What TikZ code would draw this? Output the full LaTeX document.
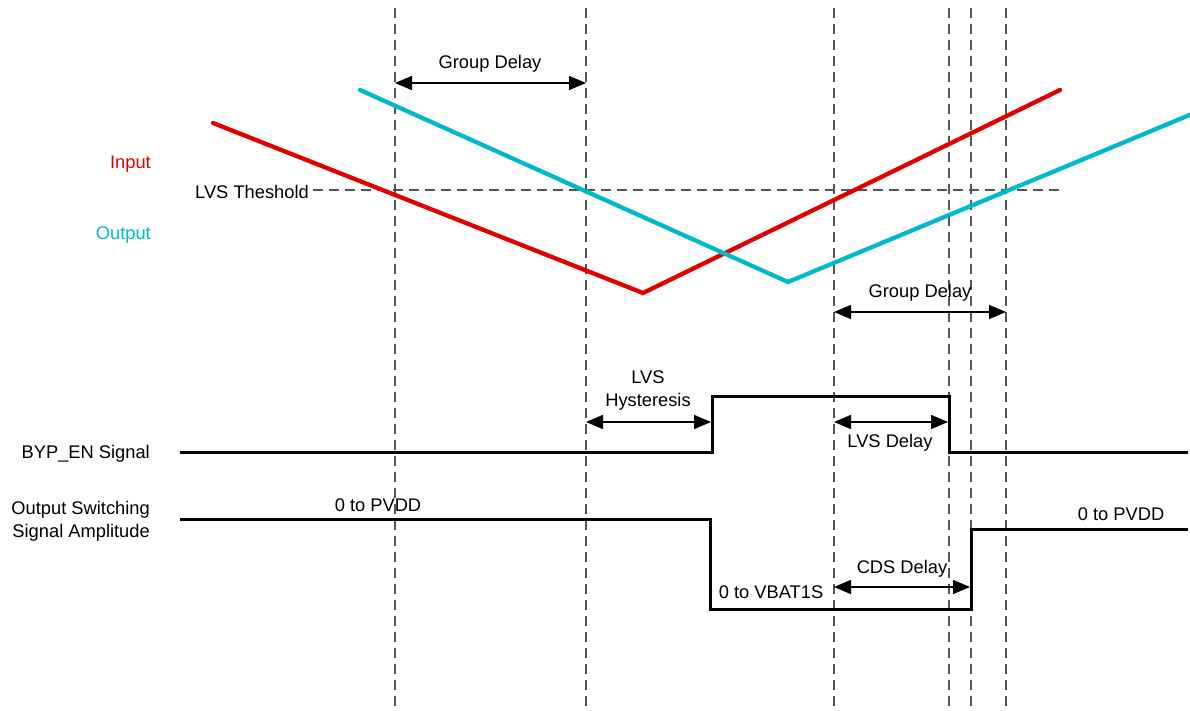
\documentclass[tikz,border=0pt]{standalone}
\usepackage{fontspec}
\setmainfont{Liberation Sans}
\usetikzlibrary{arrows.meta}
\definecolor{inred}{RGB}{224,0,0}
\definecolor{outcyan}{RGB}{0,186,204}
\definecolor{dashgray}{RGB}{85,85,85}
\begin{document}
\begin{tikzpicture}[x=1pt,y=-1pt,
  lbl/.style={inner sep=0pt,yshift=-2pt,font=\fontsize{18.3}{23}\selectfont},
  guide/.style={dashgray,line width=1.7pt,dash pattern=on 10pt off 6pt},
  wave/.style={line width=4.3pt,line cap=round,line join=miter},
  sig/.style={black,line width=3pt,line join=miter},
  dim/.style={black,line width=1.6pt,{Triangle[length=17pt,width=14pt]}-{Triangle[length=17pt,width=14pt]}}]
\useasboundingbox (0,0) rectangle (1190,711);
% vertical guides
\foreach \x/\n in {395/a,586/b,834/c,949/d,971/e,1006/f}{
  \coordinate (t\n) at (\x,8);
  \coordinate (b\n) at (\x,711);
  \draw[guide] (t\n) -- (b\n);
}
% threshold
\node[lbl,anchor=east] (thr) at (309,190) {LVS Theshold};
\coordinate (thrend) at (1060,190);
\draw[guide] ([xshift=4pt,yshift=2pt]thr.east) -- (thrend);
% input / output waveforms
\draw[wave,inred] (213,123) -- (643,293) -- (1060,90);
\draw[wave,outcyan] (360,90) -- (788,282) -- (1192,114);
\node[lbl,anchor=east,text=inred] (inp) at (151,162) {Input};
\node[lbl,anchor=east,text=outcyan] (outp) at (151,233) {Output};
% group delay 1
\coordinate (g1a) at (395,83); \coordinate (g1b) at (586,83);
\draw[dim] (g1a) -- (g1b);
\node[lbl] (gd1) at (490,62) {Group Delay};
% group delay 2
\coordinate (g2a) at (834,312); \coordinate (g2b) at (1006,312);
\draw[dim] (g2a) -- (g2b);
\node[lbl] (gd2) at (920,291) {Group Delay};
% BYP_EN signal
\node[lbl,anchor=east] (byp) at (150,452) {BYP\_EN Signal};
\draw[sig] (180,452) -- (712,452) -- (712,396) -- (949,396) -- (949,452) -- (1188,452);
% LVS hysteresis
\coordinate (h1) at (586,422); \coordinate (h2) at (711,422);
\draw[dim] (h1) -- (h2);
\node[lbl,align=center] (hys) at (648,389) {LVS\\Hysteresis};
% LVS delay
\coordinate (d1) at (834,422); \coordinate (d2) at (948,422);
\draw[dim] (d1) -- (d2);
\node[lbl] (lvsd) at (890,441) {LVS Delay};
% Output switching
\node[lbl,anchor=east,align=right] (osw) at (150,519) {Output Switching\\Signal Amplitude};
\draw[sig] (180,519) -- (710,519) -- (710,609) -- (971,609) -- (971,529) -- (1188,529);
\node[lbl] (pv1) at (378,503) {0 to PVDD};
\node[lbl] (pv2) at (1121,512) {0 to PVDD};
\node[lbl] (vb) at (771,590) {0 to VBAT1S};
% CDS delay
\coordinate (c1) at (834,587); \coordinate (c2) at (970,587);
\draw[dim] (c1) -- (c2);
\node[lbl] (cds) at (902,567) {CDS Delay};
\end{tikzpicture}
\end{document}
